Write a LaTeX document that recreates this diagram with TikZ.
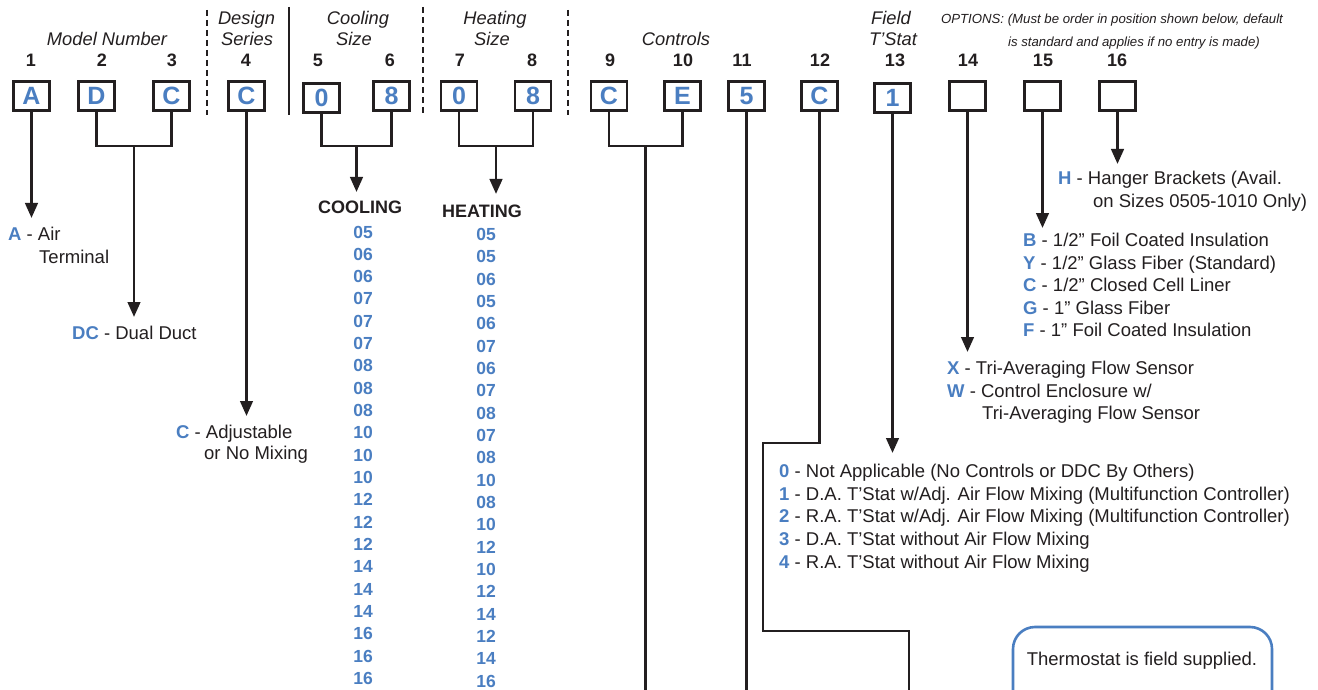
\documentclass[tikz,border=0pt]{standalone}
\usepackage{fontspec}
\setmainfont{Liberation Sans}
\usetikzlibrary{arrows.meta}
\definecolor{cblue}{RGB}{74,126,193}
\definecolor{ink}{RGB}{35,31,32}
\newcommand\keyc[1]{\textcolor{cblue}{\bfseries #1}}
\begin{document}
\begin{tikzpicture}[x=1pt,y=-1pt,
  box/.style={draw=ink, line width=2.8pt, minimum width=36pt, minimum height=29pt, inner sep=0pt,
    font=\fontsize{25}{25}\selectfont\bfseries, text=cblue},
  dig/.style={font=\fontsize{18}{18}\selectfont\bfseries, text=ink, inner sep=0pt, text height=13pt, text depth=0pt},
  hdr/.style={font=\fontsize{18.3}{18.3}\selectfont\itshape, text=ink, inner sep=0pt, text height=12.5pt, text depth=0pt},
  opt/.style={font=\fontsize{13.2}{13.2}\selectfont\itshape, text=ink, inner sep=0pt, text height=9.5pt, text depth=0pt},
  body/.style={font=\fontsize{18.5}{18.5}\selectfont, text=ink, inner sep=0pt, text height=13.3pt, text depth=0pt, anchor=west},
  cnum/.style={font=\fontsize{17.5}{17.5}\selectfont\bfseries, text=cblue, inner sep=0pt, text height=12.6pt, text depth=0pt},
  ttl/.style={font=\fontsize{18}{18}\selectfont\bfseries, text=ink, inner sep=0pt, text height=13pt, text depth=0pt},
  conn/.style={draw=ink, line width=2.8pt},
  arr/.style={conn, -{Triangle[length=15pt,width=12.5pt]}},
  sep/.style={draw=ink, line width=2.6pt},
  dsep/.style={sep, dash pattern=on 6pt off 4pt}
]
\clip (0,0) rectangle (1318,690);
\fill[white] (0,0) rectangle (1318,690);

% header labels
\node[hdr] (hmodel) at (107,39) {Model Number};
\node[hdr] (hdes1) at (246.5,18) {Design};
\node[hdr] (hdes2) at (247,39) {Series};
\node[hdr] (hcool1) at (358,18) {Cooling};
\node[hdr] (hcool2) at (354,39) {Size};
\node[hdr] (hheat1) at (495,18) {Heating};
\node[hdr] (hheat2) at (492,39) {Size};
\node[hdr] (hctrl) at (676,39) {Controls};
\node[hdr] (hfld1) at (891,18) {Field};
\node[hdr] (hfld2) at (893,39) {T’Stat};
\node[opt] (hopt1) at (1112,19) {OPTIONS: (Must be order in position shown below, default};
\node[opt] (hopt2) at (1134,42) {is standard and applies if no entry is made)};

% separators
\draw[dsep] (207,10) -- (207,115);
\draw[sep] (289,7) -- (289,115);
\draw[dsep] (423,7) -- (423,115);
\draw[dsep] (568,10) -- (568,115);

% position numbers
\node[dig] (n1) at (31,60) {1};
\node[dig] (n2) at (102,60) {2};
\node[dig] (n3) at (172,60) {3};
\node[dig] (n4) at (246,60) {4};
\node[dig] (n5) at (318,60) {5};
\node[dig] (n6) at (390,60) {6};
\node[dig] (n7) at (460,60) {7};
\node[dig] (n8) at (532,60) {8};
\node[dig] (n9) at (610,60) {9};
\node[dig] (n10) at (683,60) {10};
\node[dig] (n11) at (742,60) {11};
\node[dig] (n12) at (820,60) {12};
\node[dig] (n13) at (895,60) {13};
\node[dig] (n14) at (968,60) {14};
\node[dig] (n15) at (1043,60) {15};
\node[dig] (n16) at (1117,60) {16};

% boxes
\node[box] (b1) at (31.5,96) {A};
\node[box] (b2) at (96.5,96) {D};
\node[box] (b3) at (171.5,96) {C};
\node[box] (b4) at (246.5,96) {C};
\node[box] (b5) at (321.5,98) {0};
\node[box] (b6) at (391.5,96) {8};
\node[box] (b7) at (459,96) {0};
\node[box] (b8) at (533,96) {8};
\node[box] (b9) at (609,96) {C};
\node[box] (b10) at (682.5,96) {E};
\node[box] (b11) at (746.5,96) {5};
\node[box] (b12) at (819.5,96) {C};
\node[box] (b13) at (892.5,98) {1};
\node[box] (b14) at (967.5,96) {};
\node[box] (b15) at (1042.5,96) {};
\node[box] (b16) at (1117.5,96) {};

% connector coordinates
\coordinate (tA) at (31.5,218);
\coordinate (j23) at (134,146);
\coordinate (t23) at (134,317);
\coordinate (t4) at (246.5,416);
\coordinate (j56) at (356.5,146);
\coordinate (t56) at (356.5,192);
\coordinate (j78) at (496,146);
\coordinate (t78) at (496,194);
\coordinate (j910) at (645.75,146);
\coordinate (e910) at (645.75,700);
\coordinate (e11) at (746.5,700);
\coordinate (k1) at (819.5,443);
\coordinate (k2) at (763,443);
\coordinate (k3) at (763,631);
\coordinate (k4) at (909,631);
\coordinate (e12) at (909,700);
\coordinate (t13) at (892.5,453);
\coordinate (t14) at (967.5,352);
\coordinate (t15) at (1042.5,228);
\coordinate (t16) at (1117.5,164);

% connectors
\draw[arr] (b1.south) -- (tA);
\draw[conn] (b2.south) |- (j23) -| (b3.south);
\draw[arr] (j23) -- (t23);
\draw[arr] (b4.south) -- (t4);
\draw[conn] (b5.south) |- (j56) -| (b6.south);
\draw[arr] (j56) -- (t56);
\draw[conn] (b7.south) |- (j78) -| (b8.south);
\draw[arr] (j78) -- (t78);
\draw[conn] (b9.south) |- (j910) -| (b10.south);
\draw[conn] (j910) -- (e910);
\draw[conn] (b11.south) -- (e11);
\draw[conn] (b12.south) -- (k1) -- (k2) -- (k3) -- (k4) -- (e12);
\draw[arr] (b13.south) -- (t13);
\draw[arr] (b14.south) -- (t14);
\draw[arr] (b15.south) -- (t15);
\draw[arr] (b16.south) -- (t16);

% descriptions
\node[body] (dA1) at (8,234) {\keyc{A} - Air};
\node[body] (dA2) at (39,257) {Terminal};
\node[body] (dDC) at (72,333) {\keyc{DC} - Dual Duct};
\node[body] (dC1) at (176,432) {\keyc{C} - Adjustable};
\node[body] (dC2) at (204,453) {or No Mixing};

\node[ttl] (tcool) at (360,207) {COOLING};
\foreach \v [count=\i from 0] in {05,06,06,07,07,07,08,08,08,10,10,10,12,12,12,14,14,14,16,16,16}
  \node[cnum] (c\i) at (363,231.7+22.33*\i) {\v};
\node[ttl] (theat) at (482,211) {HEATING};
\foreach \v [count=\i from 0] in {05,05,06,05,06,07,06,07,08,07,08,10,08,10,12,10,12,14,12,14,16}
  \node[cnum] (h\i) at (486,234+22.35*\i) {\v};

\node[body] (dH1) at (1058,178) {\keyc{H} - Hanger Brackets (Avail.};
\node[body] (dH2) at (1093,201) {on Sizes 0505-1010 Only)};

\node[body] (dB) at (1023,240) {\keyc{B} - 1/2” Foil Coated Insulation};
\node[body] (dY) at (1023,262.5) {\keyc{Y} - 1/2” Glass Fiber (Standard)};
\node[body] (dC) at (1023,285) {\keyc{C} - 1/2” Closed Cell Liner};
\node[body] (dG) at (1023,307.5) {\keyc{G} - 1” Glass Fiber};
\node[body] (dF) at (1023,330) {\keyc{F} - 1” Foil Coated Insulation};

\node[body] (dX) at (947,368) {\keyc{X} - Tri-Averaging Flow Sensor};
\node[body] (dW1) at (947,391) {\keyc{W} - Control Enclosure w/};
\node[body] (dW2) at (982,413) {Tri-Averaging Flow Sensor};

\node[body] (d0) at (779,470.7) {\keyc{0} - Not Applicable (No Controls or DDC By Others)};
\node[body] (d1) at (779,493.4) {\keyc{1} - D.A. T’Stat w/Adj. Air Flow Mixing (Multifunction Controller)};
\node[body] (d2) at (779,516) {\keyc{2} - R.A. T’Stat w/Adj. Air Flow Mixing (Multifunction Controller)};
\node[body] (d3) at (779,539) {\keyc{3} - D.A. T’Stat without Air Flow Mixing};
\node[body] (d4) at (779,561.7) {\keyc{4} - R.A. T’Stat without Air Flow Mixing};

% thermostat note
\draw[draw=cblue, line width=2.6pt, rounded corners=22pt] (1013,720) |- (1272,627) -- (1272,720);
\node[body, anchor=center] (tnote) at (1142,659) {Thermostat is field supplied.};
\end{tikzpicture}
\end{document}
